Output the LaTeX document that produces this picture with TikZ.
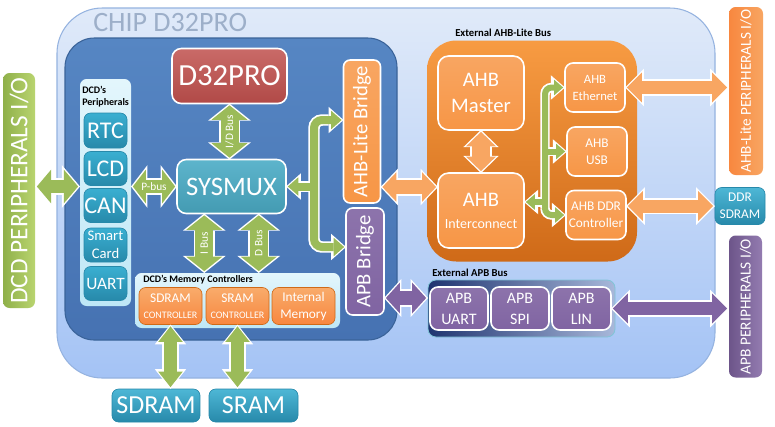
\documentclass[tikz,border=0pt]{standalone}
\usepackage{fontspec}
\setmainfont{Carlito}
\usetikzlibrary{arrows.meta,calc}
\newcommand{\fsz}[2]{\fontsize{#1}{#2}\selectfont}
\definecolor{chiptop}{HTML}{E0EAF9}
\definecolor{chipbot}{HTML}{A4C3F5}
\definecolor{chipline}{HTML}{95B3E0}
\definecolor{coretop}{HTML}{5686C3}
\definecolor{corebot}{HTML}{4672B2}
\definecolor{coreline}{HTML}{3A6399}
\definecolor{cpured}{HTML}{C0504D}
\definecolor{aqua}{HTML}{4BACC6}
\definecolor{aquatop}{HTML}{3AAFD1}
\definecolor{aquadark}{HTML}{2789AA}
\definecolor{ahborange}{HTML}{F79646}
\definecolor{ahbdark}{HTML}{CF6A18}
\definecolor{apbpurple}{HTML}{8064A2}
\definecolor{dcdgreen}{HTML}{9BBB59}
\definecolor{greentop}{HTML}{B9D46F}
\definecolor{greenbot}{HTML}{8FB04A}
\definecolor{cyantop}{HTML}{E3F6FC}
\definecolor{cyanbot}{HTML}{BEE7F6}
\definecolor{navy}{HTML}{1F3470}
\definecolor{paleblue}{HTML}{A8B8DA}
\definecolor{titlegray}{HTML}{9DAFC9}
\tikzset{
wh/.style 2 args={minimum width=#1*0.75pt, minimum height=#2*0.75pt},
block/.style={draw=white, line width=1.2pt, rounded corners=5pt,
  inner sep=0pt, outer sep=0pt, align=center, text=white},
panel/.style={rounded corners=5pt, inner sep=0pt, outer sep=0pt},
cpubox/.style={block, top color=cpured!85!white, bottom color=cpured!92!black, font=\fsz{23}{23}},
muxbox/.style={block, top color=aqua!90!white, bottom color=aqua!90!black, font=\fsz{20}{20}},
perbox/.style={block, draw=aquadark, line width=0.5pt, top color=aquatop, bottom color=aquadark},
membox/.style={block, draw=ahbdark, line width=0.5pt, top color=ahborange!80!white,
  bottom color=ahborange!90!red, font=\fsz{10}{12.75}},
ahbbox/.style={block, top color=ahborange!85!white, bottom color=ahborange},
apbbox/.style={block, top color=apbpurple!90!white, bottom color=apbpurple},
ramsbox/.style={block, draw=aquadark, line width=0.5pt, top color=aquatop!90!white, bottom color=aquadark},
iobar/.style={panel, text=white},
grouplbl/.style={font=\fsz{7.5}{9}\bfseries, inner sep=0pt, text=black},
buslbl/.style={text=white, font=\fsz{8.5}{9}, inner sep=0pt},
fat/.style n args={3}{line width=#1,
  >={Triangle[length=0pt #3, width=0pt #2, line width=0pt]}},
bus/.style n args={4}{fat={#2}{#3}{#4}, draw=#1, <->, shorten <=1.4pt, shorten >=1.4pt,
  preaction={draw=white, line width=#2+2.6pt, shorten <=0pt, shorten >=0pt}},
under/.style n args={3}{fat={#1+2.6pt}{#2}{#3}, draw=white},
over/.style n args={4}{fat={#2}{#3}{#4}, draw=#1, shorten >=1.4pt}
}
\begin{document}
\begin{tikzpicture}[x=0.75pt, y=-0.75pt]
\path[fill=white] (0,0) rectangle (775,426);
%% chip and core
\node[panel, rounded corners=34pt, top color=chiptop, bottom color=chipbot, draw=chipline,
  line width=0.8pt, wh={658}{370}] at (386,193) (chip) {};
\node[anchor=west, inner sep=0pt, text=titlegray, font=\fsz{21}{21}] at (93,23) (title) {CHIP D32PRO};
\node[panel, rounded corners=22pt, top color=coretop, bottom color=corebot, draw=coreline,
  line width=0.8pt, wh={332}{302}] at (231,189) (core) {};
%% CPU and system mux
\node[cpubox, rounded corners=7pt, wh={115}{55}] at (229.5,76) (cpu) {D32PRO};
\node[muxbox, rounded corners=7pt, wh={109}{54}] at (231.5,186.5) (sysmux) {SYSMUX};
%% DCD peripherals
\node[panel, top color=cyantop, bottom color=cyanbot, wh={51}{227}] at (105.5,192.5) (periph) {};
\node[grouplbl, anchor=north west, align=left] at (82,86) (perlbl) {DCD’s\\Peripherals};
\node[perbox, wh={43}{35}, font=\fsz{18}{18}] at (105.5,130.5) (rtc) {RTC};
\node[perbox, wh={43}{34}, font=\fsz{18}{18}] at (105.5,168.5) (lcd) {LCD};
\node[perbox, wh={43}{34}, font=\fsz{18}{18}] at (105.5,205.5) (can) {CAN};
\node[perbox, wh={43}{34}, font=\fsz{11}{13.5}] at (105.5,245) (smart) {Smart\\Card};
\node[perbox, wh={43}{34}, font=\fsz{13}{13}] at (105.5,283.5) (uart) {UART};
%% memory controllers
\node[panel, top color=cyantop, bottom color=cyanbot, wh={205}{55}] at (237.5,300.5) (memctl) {};
\node[grouplbl, anchor=west] at (143,280) (memlbl) {DCD’s Memory Controllers};
\node[membox, wh={63}{37}] at (170.5,306) (sdramctl) {SDRAM\\[-1pt]{\fsz{7.5}{9}CONTROLLER}};
\node[membox, wh={63}{37}] at (237.5,306) (sramctl) {SRAM\\[-1pt]{\fsz{7.5}{9}CONTROLLER}};
\node[membox, wh={63}{37}] at (303.5,306) (intmem) {Internal\\Memory};
\node[ramsbox, wh={88}{33}, font=\fsz{19.5}{20}] at (156,405.5) (sdram) {SDRAM};
\node[ramsbox, wh={89}{33}, font=\fsz{19.5}{20}] at (253.5,405.5) (sram) {SRAM};
%% bridges
\node[ahbbox, rotate=90, wh={143}{37}, font=\fsz{15.5}{16}] at (362,131.5) (ahbb) {AHB-Lite Bridge};
\node[apbbox, rotate=90, wh={107}{38}, font=\fsz{15.5}{16}] at (365,261.5) (apbb) {APB Bridge};
%% external AHB-Lite bus
\node[grouplbl, font=\fsz{8}{9}\bfseries, anchor=west] at (455,33) (ahblbl) {External AHB-Lite Bus};
\node[panel, rounded corners=22pt, top color=ahborange!95!yellow, bottom color=ahbdark,
  wh={210}{221}] at (532,151) (ahbpanel) {};
\node[ahbbox, rounded corners=8pt, wh={86}{74}, font=\fsz{15.5}{20}] at (481,93) (master) {AHB\\Master};
\node[ahbbox, rounded corners=8pt, wh={86}{75}, font=\fsz{15.5}{16.5}] at (481,210.5) (inter)
  {AHB\\{\fsz{10.5}{12}Interconnect}};
\node[ahbbox, rounded corners=6pt, wh={60}{49}, font=\fsz{9.5}{12.75}] at (595,87.5) (eth) {AHB\\Ethernet};
\node[ahbbox, rounded corners=6pt, wh={60}{49}, font=\fsz{10}{12.75}] at (597,151.5) (usb) {AHB\\USB};
\node[ahbbox, rounded corners=6pt, wh={60}{49}, font=\fsz{10}{12.75}] at (596,215) (ddrc) {AHB DDR\\Controller};
%% external APB bus
\node[grouplbl, font=\fsz{8}{9}\bfseries, anchor=west] at (432,273) (apblbl) {External APB Bus};
\node[panel, rounded corners=6pt, left color=navy, right color=paleblue, draw=aqua!70!white,
  line width=0.6pt, wh={187}{57}] at (521.5,308.5) (apbpanel) {};
\node[apbbox, rounded corners=6pt, wh={58}{43}, font=\fsz{12}{15.75}] at (459,308.5) (auart) {APB\\UART};
\node[apbbox, rounded corners=6pt, wh={58}{43}, font=\fsz{12}{15.75}] at (520,308.5) (aspi) {APB\\SPI};
\node[apbbox, rounded corners=6pt, wh={59}{43}, font=\fsz{12}{15.75}] at (581.5,308.5) (alin) {APB\\LIN};
%% outside the chip
\node[iobar, rotate=90, left color=greenbot, right color=greentop, wh={235}{32},
  font=\fsz{19}{19}] at (19,190.5) (dcdio) {DCD PERIPHERALS I/O};
\node[iobar, rotate=90, left color=ahborange!90!red, right color=ahborange!85!white, wh={168}{34},
  font=\fsz{11.4}{12}] at (746,91) (ahbio) {AHB-Lite PERIPHERALS I/O};
\node[ramsbox, wh={50}{37}, font=\fsz{10}{12.75}] at (740,206) (ddrsd) {DDR\\SDRAM};
\node[iobar, rotate=90, left color=apbpurple!85!black, right color=apbpurple!85!white, wh={142}{33},
  font=\fsz{11.5}{12}] at (745.5,306.5) (apbio) {APB PERIPHERALS I/O};
%% buses inside the core
\draw[bus={dcdgreen}{9.75pt}{2.6}{1.1}] (dcdio.south |- sysmux.west) -- (periph.west |- sysmux.west);
\draw[bus={dcdgreen}{9.75pt}{2.6}{1.0}] (periph.east |- sysmux.west) -- node[buslbl]{P-bus} (sysmux.west);
\draw[bus={dcdgreen}{13.5pt}{2.0}{0.8}] (cpu.south) -- node[buslbl, rotate=90]{I/D Bus} (cpu.south |- sysmux.north);
\coordinate (ibus) at ($(sysmux.south west)!0.25!(sysmux.south east)$);
\coordinate (dbus) at ($(sysmux.south west)!0.75!(sysmux.south east)$);
\draw[bus={dcdgreen}{13.5pt}{2.0}{0.8}] (ibus) -- node[buslbl, rotate=90]{I Bus} (ibus |- memctl.north);
\draw[bus={dcdgreen}{13.5pt}{2.0}{0.8}] (dbus) -- node[buslbl, rotate=90]{D Bus} (dbus |- memctl.north);
\draw[bus={dcdgreen}{9.75pt}{1.9}{1.2}] (sdramctl.south) -- (sdramctl.south |- sdram.north);
\draw[bus={dcdgreen}{9.75pt}{1.9}{1.2}] (sramctl.south) -- (sramctl.south |- sram.north);
%% fork to the bridges
\coordinate (j) at ($(sysmux.east)+(28,0)$);
\coordinate (ab1) at ($(ahbb.north)+(0,-11.5)$);
\coordinate (pb1) at ($(apbb.north)+(0,-14.5)$);
\draw[under={6pt}{2.3}{1.3}, ->] (j) -- (sysmux.east);
\draw[under={6pt}{2.3}{1.3}, <->, rounded corners=6pt] (ab1) -| (j) |- (pb1);
\draw[over={dcdgreen}{6pt}{2.3}{1.3}, ->] (j) -- (sysmux.east);
\draw[over={dcdgreen}{6pt}{2.3}{1.3}, <->, shorten <=1.4pt, rounded corners=6pt] (ab1) -| (j) |- (pb1);
%% AHB side
\coordinate (ai) at ($(inter.west)+(0,-23.5)$);
\draw[bus={ahborange!85!white}{10.5pt}{2.1}{1.0}] (ahbb.south |- ai) -- (ai);
\draw[bus={ahborange!85!white}{13.5pt}{1.65}{0.8}] (master.south) -- (inter.north);
\coordinate (k) at ($(inter.east)+(21,-8.5)$);
\draw[under={4.5pt}{2.6}{1.5}, ->] (k) -- (k -| inter.east);
\draw[under={4.5pt}{2.6}{1.5}, <->, rounded corners=5pt] (eth.west) -| (k) |- (ddrc.west);
\draw[under={4.5pt}{2.6}{1.5}, ->] (k |- usb.west) -- (usb.west);
\draw[over={dcdgreen}{4.5pt}{2.6}{1.5}, ->] (k) -- (k -| inter.east);
\draw[over={dcdgreen}{4.5pt}{2.6}{1.5}, <->, shorten <=1.4pt, rounded corners=5pt] (eth.west) -| (k) |- (ddrc.west);
\draw[over={dcdgreen}{4.5pt}{2.6}{1.5}, ->] (k |- usb.west) -- (usb.west);
\draw[bus={ahborange!85!white}{9.75pt}{2.3}{1.15}] (eth.east) -- (eth.east -| ahbio.north);
\draw[bus={ahborange!85!white}{9.75pt}{2.3}{1.15}] (ddrsd.west -| ddrc.east) -- (ddrsd.west);
%% APB side
\coordinate (pa) at ($(apbpanel.west)+(0,-10.5)$);
\draw[bus={apbpurple}{10.5pt}{2.2}{1.0}] (apbb.south |- pa) -- (pa);
\draw[bus={apbpurple}{9.75pt}{2.3}{1.15}] (alin.east) -- (alin.east -| apbio.north);
\end{tikzpicture}
\end{document}
